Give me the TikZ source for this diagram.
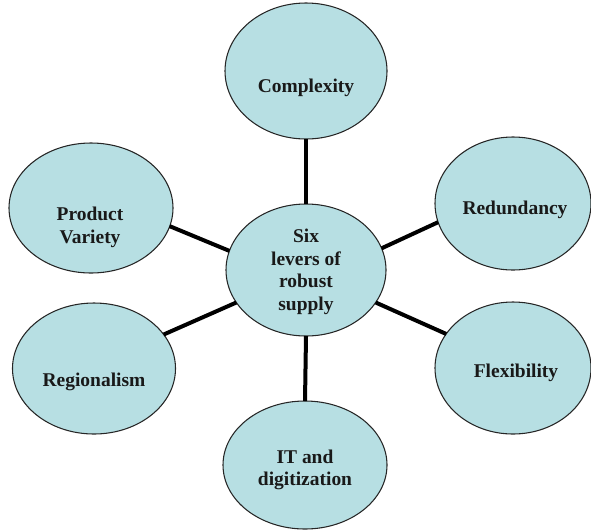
\documentclass[tikz,border=0pt]{standalone}
\usepackage{fontspec}
\setmainfont{Liberation Serif}
\usetikzlibrary{shapes.geometric}
\definecolor{leverfill}{RGB}{183,223,227}
\begin{document}
\begin{tikzpicture}[x=0.75pt,y=-0.75pt,
  lever/.style={ellipse,draw=black!85,line width=0.8pt,fill=leverfill,
    inner sep=0pt,outer sep=0pt},
  levertext/.style={font=\fontsize{14.6pt}{17pt}\selectfont\bfseries,
    align=center,inner sep=0pt,text=black!90},
  link/.style={line width=3pt,black}]
\useasboundingbox (0,0) rectangle (591,529);

% ellipses (hub and six levers)
\node[lever,minimum width=120pt,minimum height=99pt] (hub) at (306,270) {};
\node[lever,minimum width=121.5pt,minimum height=102pt] (cx) at (306,71) {};
\node[lever,minimum width=123pt,minimum height=97.5pt] (pv) at (91,208) {};
\node[lever,minimum width=117pt,minimum height=99.75pt] (rd) at (513,203.5) {};
\node[lever,minimum width=122.25pt,minimum height=98.25pt] (rg) at (94,368.5) {};
\node[lever,minimum width=117pt,minimum height=99pt] (fx) at (513,368) {};
\node[lever,minimum width=123pt,minimum height=96pt] (it) at (305,465) {};

% labels
\node[levertext] (hubt) at (306,272) {Six\\levers of\\robust\\supply};
\node[levertext] (cxt) at (306,88) {Complexity};
\node[levertext] (pvt) at (90,227.5) {Product\\Variety};
\node[levertext] (rdt) at (515,210) {Redundancy};
\node[levertext] (rgt) at (94,382) {Regionalism};
\node[levertext] (fxt) at (516,373) {Flexibility};
\node[levertext] (itt) at (305,470) {IT and\\digitization};

% spokes
\draw[link] (hub.north) -- (cx.south);
\draw[link] (hub.south) -- (it.north);
\draw[link] (hub.166.4) -- (pv.-13.2);
\draw[link] (hub.16) -- (rd.194);
\draw[link] (hub.205) -- (rg.26);
\draw[link] (hub.-25) -- (fx.153);
\end{tikzpicture}
\end{document}
